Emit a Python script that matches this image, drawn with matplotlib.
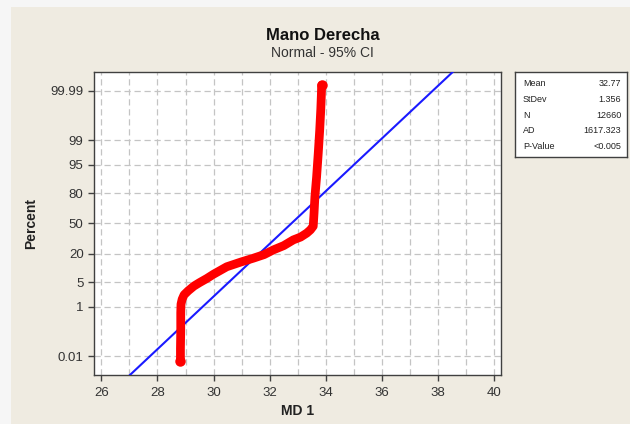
import numpy as np
import matplotlib
matplotlib.use('Agg')
import matplotlib.pyplot as plt
from matplotlib.patches import Rectangle
from statistics import NormalDist

# Datos (MD 1 vs porcentaje acumulado)
md_x = [28.82, 28.82, 28.83, 28.83, 28.84, 28.88, 28.95, 29.1, 29.3, 29.5,
        29.76, 30.0, 30.47, 31.0, 31.42, 31.8, 32.13, 32.5, 32.84, 33.1,
        33.32, 33.45, 33.55, 33.58, 33.61, 33.67, 33.73, 33.78, 33.82,
        33.84, 33.85]
md_pct = [0.0057, 0.0233, 0.135, 0.62, 1.2, 1.7, 2.3, 3.0, 4.0, 4.9,
          6.2, 7.8, 11.3, 14.2, 16.6, 19.2, 23.0, 26.8, 32.3, 35.2,
          39.4, 42.9, 47.0, 61.8, 77.3, 90.3, 97.6, 99.53, 99.931,
          99.984, 99.9946]

mean, stdev = 32.77, 1.356
fit_x = [26.9, 38.7]

stat_names = ['Mean', 'StDev', 'N', 'AD', 'P-Value']
stat_vals = ['32.77', '1.356', '12660', '1617.323', '<0.005']

yticks = [0.01, 1, 5, 20, 50, 80, 95, 99, 99.99]
xticks = [26, 28, 30, 32, 34, 36, 38, 40]

nd = NormalDist()
_ppf = np.vectorize(lambda v: nd.inv_cdf(v / 100.0), otypes=[float])
_cdf = np.vectorize(lambda v: nd.cdf(v) * 100.0, otypes=[float])

def fwd(p):
    p = np.clip(np.asarray(p, dtype=float), 1e-10, 100 - 1e-10)
    return _ppf(p)

def inv(z):
    return _cdf(np.asarray(z, dtype=float))

plt.rcParams['font.family'] = ['Liberation Sans', 'DejaVu Sans']

fig = plt.figure(figsize=(6.3, 4.24), dpi=100)
fig.patch.set_facecolor('#f6f6f6')
fig.add_artist(Rectangle((11/630, 0), 1, 1 - 7/424, transform=fig.transFigure,
                         facecolor='#efebe1', edgecolor='none', zorder=-10))

ax = fig.add_axes([94/630, 49/424, 407/630, 303/424])
ax.set_facecolor('white')
ax.set_yscale('function', functions=(fwd, inv))

fit_pct = [NormalDist(mean, stdev).cdf(v) * 100 for v in fit_x]
ax.plot(fit_x, fit_pct, color='#1a1aff', lw=1.5, zorder=3)
ax.plot(md_x, md_pct, color='#ff0000', lw=6.3, solid_capstyle='round',
        solid_joinstyle='round', zorder=4)
ax.plot([md_x[0], md_x[-1]], [md_pct[0], md_pct[-1]], 'o', color='#ff0000',
        ms=6.5, zorder=5)

ax.set_xlim(25.74, 40.24)
ax.set_ylim(float(inv(-4.24)), float(inv(4.24)))
ax.set_xticks(xticks)
ax.set_xticks(np.arange(26, 41, 1), minor=True)
ax.set_yticks(yticks)
ax.set_yticklabels(['0.01', '1', '5', '20', '50', '80', '95', '99', '99.99'])
ax.yaxis.set_minor_locator(matplotlib.ticker.NullLocator())
ax.tick_params(which='major', direction='out', length=4, width=1,
               color='#404040', labelsize=9.5, labelcolor='#333333')
ax.tick_params(axis='x', which='major', pad=5)
ax.tick_params(which='minor', length=0)
ax.grid(True, which='both', linestyle=(0, (5, 3)), color='#c4c4c4', lw=0.9)
ax.set_axisbelow(True)
for s in ax.spines.values():
    s.set_color('#404040')
    s.set_linewidth(1)

ax.set_xlabel('MD 1', fontsize=10, fontweight='bold', color='#222222', labelpad=3)
ax.set_ylabel('Percent', fontsize=10, fontweight='bold', color='#222222', labelpad=9)

fig.text(0.512, 1 - 40/424, 'Mano Derecha', ha='center', va='baseline',
         fontsize=12, fontweight='bold', color='#111111')
fig.text(0.512, 1 - 57/424, 'Normal - 95% CI', ha='center', va='baseline',
         fontsize=10, color='#333333')

# cuadro de estadisticos
bx = fig.add_axes([515/630, 1 - 157/424, 112/630, 85/424])
bx.set_facecolor('white')
bx.set_xticks([])
bx.set_yticks([])
for s in bx.spines.values():
    s.set_color('#404040')
    s.set_linewidth(1)
for i, (n, v) in enumerate(zip(stat_names, stat_vals)):
    yy = 0.86 - i * 0.183
    bx.text(0.07, yy, n, fontsize=6.5, va='center', ha='left', color='#222222')
    bx.text(0.95, yy, v, fontsize=6.5, va='center', ha='right', color='#222222')

fig.savefig('out.png', dpi=100, facecolor=fig.get_facecolor())
